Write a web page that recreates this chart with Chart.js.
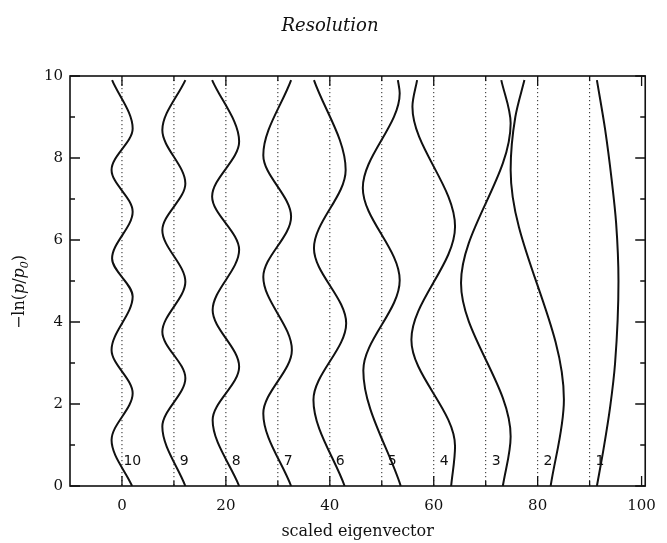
<!DOCTYPE html>
<html>
<head>
<meta charset="utf-8">
<script src="https://cdn.jsdelivr.net/npm/chart.js@4.4.1/dist/chart.umd.min.js"></script>
<style>
  html, body { margin: 0; padding: 0; background: #fff; }
  #wrap { width: 667px; height: 543px; position: relative; }
</style>
</head>
<body>
<div id="wrap"><canvas id="res"></canvas></div>
<script>
/* eigenvector curves, [x, y] at the turning points (plus ends) of each trace */
const curveNames = ['10', '9', '8', '7', '6', '5', '4', '3', '2', '1'];
const offsets = [0, 10, 20, 30, 40, 50, 60, 70, 80, 90];

const curve10 = [[-1.9, 9.9], [2.06, 8.72], [-2.0, 7.71], [2.06, 6.69], [-1.9, 5.55], [2.06, 4.62], [-2.0, 3.32],
  [2.06, 2.26], [-2.0, 1.12], [1.95, 0]];
const curve9 = [[12.2, 9.9], [7.77, 8.68], [12.2, 7.38], [7.77, 6.24], [12.2, 4.98], [7.77, 3.76], [12.2, 2.63],
  [7.77, 1.45], [12.2, 0]];
const curve8 = [[17.35, 9.9], [22.55, 8.4], [17.35, 7.06], [22.55, 5.76], [17.45, 4.29], [22.55, 2.91], [17.45, 1.61],
  [22.55, 0]];
const curve7 = [[32.55, 9.9], [27.2, 8.07], [32.55, 6.57], [27.2, 5.1], [32.7, 3.32], [27.2, 1.77], [32.55, 0]];
const curve6 = [[36.95, 9.9], [43.05, 7.71], [36.95, 5.8], [43.15, 3.97], [36.85, 2.1], [42.85, 0]];
const curve5 = [[53.1, 9.9], [53.45, 9.58], [46.35, 7.27], [53.45, 5.02], [46.45, 2.82], [53.65, 0]];
const curve4 = [[56.8, 9.9], [55.9, 9.25], [64.1, 6.33], [55.7, 3.57], [64.1, 0.97], [63.35, 0]];
const curve3 = [[73.0, 9.9], [74.8, 8.85], [65.25, 4.95], [74.8, 1.21], [73.3, 0]];
const curve2 = [[77.45, 9.9], [75.7, 9.0], [74.8, 7.71], [85.05, 2.11], [82.5, 0]];
const curve1 = [[91.4, 9.9], [93.0, 8.68], [94.25, 7.46], [95.1, 6.41], [95.55, 5.0], [94.9, 3.0], [93.95, 1.93],
  [92.65, 0.88], [91.4, 0]];

const curves = [curve10, curve9, curve8, curve7, curve6, curve5, curve4, curve3, curve2, curve1];

const xTicks = [0, 20, 40, 60, 80, 100];
const xMinor = [10, 30, 50, 70, 90];
const yTicks = [0, 2, 4, 6, 8, 10];
const yMinor = [1, 3, 5, 7, 9];

const SERIF = '"DejaVu Serif", serif';

/* dotted zero lines behind the curves */
const zeroLines = offsets.map(o => ({
  data: [{ x: o, y: 10 }, { x: o, y: 0 }],
  borderColor: '#222',
  borderWidth: 1,
  borderDash: [1.2, 2.8],
  pointRadius: 0,
  tension: 0,
}));

// y is the running variable, so the spline is monotone along y
const traces = curves.map(c => ({
  data: c.map(([x, y]) => ({ x, y })),
  borderColor: '#111',
  borderWidth: 2,
  pointRadius: 0,
  cubicInterpolationMode: 'monotone',
}));

/* frame, inward ticks, titles and curve numbers */
const decor = {
  id: 'decor',
  afterDatasetsDraw(chart) {
    const { ctx, chartArea: a, scales: { x, y } } = chart;
    ctx.save();
    ctx.strokeStyle = '#111';
    ctx.lineWidth = 1.6;
    ctx.strokeRect(a.left, a.top, a.right - a.left, a.bottom - a.top);

    ctx.lineWidth = 1.3;
    ctx.beginPath();
    const xt = (v, len) => {
      const px = x.getPixelForValue(v);
      ctx.moveTo(px, a.bottom); ctx.lineTo(px, a.bottom - len);
      ctx.moveTo(px, a.top); ctx.lineTo(px, a.top + len);
    };
    const yt = (v, len) => {
      const py = y.getPixelForValue(v);
      ctx.moveTo(a.left, py); ctx.lineTo(a.left + len, py);
      ctx.moveTo(a.right, py); ctx.lineTo(a.right - len, py);
    };
    xTicks.forEach(v => xt(v, 10));
    xMinor.forEach(v => xt(v, 5));
    yTicks.forEach(v => yt(v, 10));
    yMinor.forEach(v => yt(v, 5));
    ctx.stroke();

    // curve numbers near the bottom
    ctx.fillStyle = '#111';
    ctx.font = '14px "DejaVu Sans", sans-serif';
    ctx.textAlign = 'center';
    ctx.textBaseline = 'middle';
    curveNames.forEach((n, i) => {
      ctx.fillText(n, x.getPixelForValue(offsets[i] + 2), y.getPixelForValue(0.6));
    });

    // title
    ctx.font = 'italic 18px ' + SERIF;
    ctx.textBaseline = 'alphabetic';
    ctx.fillText('Resolution', 330, 31);

    // y axis title: -ln(p/p0), rotated
    const parts = [
      { t: '\u2212ln(', f: '16px ' + SERIF, dy: 0 },
      { t: 'p', f: 'italic 16px ' + SERIF, dy: 0 },
      { t: '/', f: '16px ' + SERIF, dy: 0 },
      { t: 'p', f: 'italic 16px ' + SERIF, dy: 0 },
      { t: '0', f: 'italic 11px ' + SERIF, dy: 4 },
      { t: ')', f: '16px ' + SERIF, dy: 0 },
    ];
    let total = 0;
    parts.forEach(p => { ctx.font = p.f; p.w = ctx.measureText(p.t).width; total += p.w; });
    ctx.translate(24, 292);
    ctx.rotate(-Math.PI / 2);
    ctx.textAlign = 'left';
    let cx = -total / 2;
    parts.forEach(p => { ctx.font = p.f; ctx.fillText(p.t, cx, p.dy); cx += p.w; });
    ctx.restore();
  },
};

new Chart(document.getElementById('res'), {
  type: 'line',
  data: { datasets: [...zeroLines, ...traces] },
  options: {
    indexAxis: 'y',
    responsive: true,
    maintainAspectRatio: false,
    animation: false,
    events: [],
    layout: { padding: { top: 76, right: 15, left: 0, bottom: 0 } },
    plugins: { legend: { display: false }, tooltip: { enabled: false } },
    scales: {
      x: {
        type: 'linear',
        min: -10,
        max: 100.7,
        grid: { display: false, drawTicks: false },
        border: { display: false },
        afterBuildTicks: s => { s.ticks = xTicks.map(v => ({ value: v })); },
        afterFit: s => { s.height = 57; },
        ticks: { color: '#111', font: { family: SERIF, size: 15 }, padding: 11, maxRotation: 0 },
        title: {
          display: true,
          text: 'scaled eigenvector',
          color: '#111',
          font: { family: SERIF, size: 16 },
          padding: { top: 0, bottom: 2 },
        },
      },
      y: {
        type: 'linear',
        min: 0,
        max: 10,
        grid: { display: false, drawTicks: false },
        border: { display: false },
        afterBuildTicks: s => { s.ticks = yTicks.map(v => ({ value: v })); },
        afterFit: s => { s.width = 70; },
        ticks: { color: '#111', font: { family: SERIF, size: 15 }, padding: 7 },
      },
    },
  },
  plugins: [decor],
});
</script>
</body>
</html>
